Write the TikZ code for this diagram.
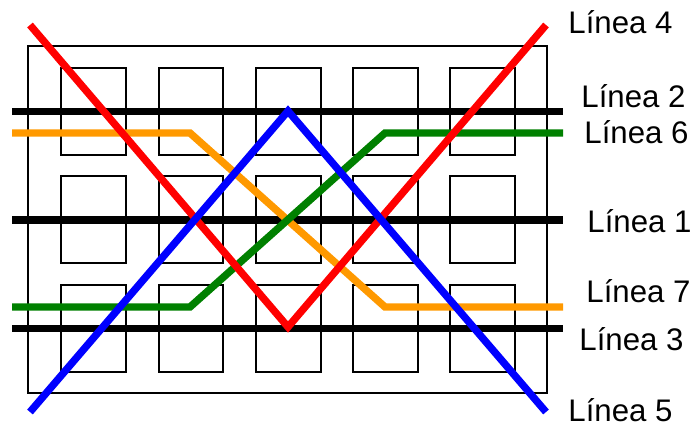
\documentclass[tikz,border=0pt]{standalone}
\usepackage{fontspec}
\setmainfont{Liberation Sans}
\definecolor{naranja}{HTML}{FF9900}
\definecolor{verde}{HTML}{008000}

\begin{document}
\begin{tikzpicture}[x=0.5pt,y=-0.5pt,line cap=butt,line join=miter,
  marco/.style={draw=black,line width=1pt},
  via/.style={line width=3.7pt},
  etiqueta/.style={anchor=base west,inner sep=0pt,font=\fontsize{15.6}{18}\selectfont}]
  \useasboundingbox (0,0) rectangle (696,428);
  % edificio
  \draw[marco] (28,46) rectangle (547,393);
  \foreach \x in {61,158.5,256,353,450}
    \foreach \y in {68,176,285}
      \draw[marco] (\x,\y) rectangle ++(64.5,86.5);
  % lineas horizontales
  \coordinate (L2a) at (12,111.5);
  \coordinate (L2b) at (563,111.5);
  \coordinate (L1a) at (12,220);
  \coordinate (L1b) at (563,220);
  \coordinate (L3a) at (12,328.5);
  \coordinate (L3b) at (563,328.5);
  \draw[via,black] (L2a)--(L2b);
  \draw[via,black] (L1a)--(L1b);
  \draw[via,black] (L3a)--(L3b);
  % lineas quebradas
  \coordinate (L6a) at (12,307);
  \coordinate (L6b) at (190,307);
  \coordinate (L6c) at (385,133);
  \coordinate (L6d) at (563,133);
  \coordinate (L7a) at (12,133);
  \coordinate (L7b) at (190,133);
  \coordinate (L7c) at (385,307);
  \coordinate (L7d) at (563,307);
  \draw[via,naranja] (L7a)--(L7b)--(L7c)--(L7d);
  \draw[via,verde] (L6a)--(L6b)--(L6c)--(L6d);
  % diagonales
  \coordinate (L4a) at (30,25);
  \coordinate (L4b) at (288,327);
  \coordinate (L4c) at (546,25);
  \coordinate (L5a) at (30,412);
  \coordinate (L5b) at (288,111);
  \coordinate (L5c) at (546,412);
  \draw[via,red] (L4a)--(L4b)--(L4c);
  \draw[via,blue] (L5a)--(L5b)--(L5c);
  % etiquetas
  \node[etiqueta] (t4) at (568,33) {Línea 4};
  \node[etiqueta] (t2) at (581,107) {Línea 2};
  \node[etiqueta] (t6) at (584,143) {Línea 6};
  \node[etiqueta] (t1) at (587,232) {Línea 1};
  \node[etiqueta] (t7) at (586,302) {Línea 7};
  \node[etiqueta] (t3) at (579,350) {Línea 3};
  \node[etiqueta] (t5) at (568,421) {Línea 5};
\end{tikzpicture}
\end{document}
